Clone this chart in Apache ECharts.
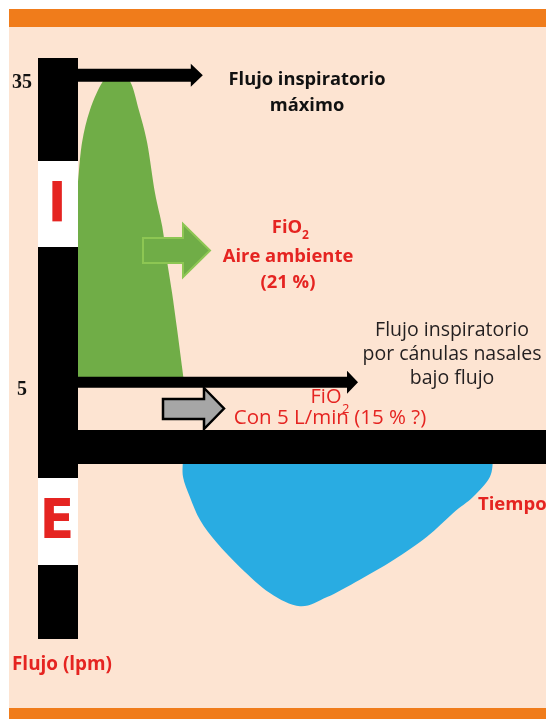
<!DOCTYPE html>
<html>
<head>
<meta charset="utf-8">
<script src="https://cdn.jsdelivr.net/npm/echarts@6/dist/echarts.min.js"></script>
<style>
html,body{margin:0;padding:0;background:#fff;}
#chart{width:546px;height:719px;}
</style>
</head>
<body>
<div id="chart"></div>
<script>
// ---- data (time in s, flow in lpm) ----
const inspTime = [0, 0, 0.077, 0.23, 0.48, 0.73, 1.0, 1.17, 1.33, 1.48, 1.62, 1.71, 1.81, 1.9, 2.04];
const inspFlow = [5, 24.5, 28.4, 31.6, 34.4, 35.5, 34.4, 31.6, 28.4, 23.5, 20.2, 16.9, 13.7, 10.4, 5];
const expTime = [2.02, 2.02, 2.15, 2.35, 2.67, 3.12, 3.69, 4.27, 4.79, 5.42, 6.06, 6.71, 7.21, 7.6, 7.92, 7.98];
const expFlow = [-2.5, -4.26, -6.2, -8.5, -10.7, -13.1, -15.6, -16.9, -16.0, -14.3, -12.4, -10.1, -7.8, -6.2, -4.26, -2.5];
const arrowFlows = [35, 5];
const arrowEnds = [2.40, 5.385];
const yTickLabels = [35, 5];

const FONT = '"Open Sans", Lato, sans-serif';
const RED = '#E52421';

function smoothPath(pts) {
  let d = '';
  for (let i = 0; i < pts.length - 1; i++) {
    const p0 = pts[Math.max(i - 1, 0)], p1 = pts[i], p2 = pts[i + 1], p3 = pts[Math.min(i + 2, pts.length - 1)];
    const c1 = [p1[0] + (p2[0] - p0[0]) / 6, p1[1] + (p2[1] - p0[1]) / 6];
    const c2 = [p2[0] - (p3[0] - p1[0]) / 6, p2[1] - (p3[1] - p1[1]) / 6];
    d += ' C' + c1[0] + ' ' + c1[1] + ' ' + c2[0] + ' ' + c2[1] + ' ' + p2[0] + ' ' + p2[1];
  }
  return d;
}

const chart = echarts.init(document.getElementById('chart'), null, {renderer: 'canvas'});

const option = {
  backgroundColor: '#ffffff',
  animation: false,
  grid: {left: 78, right: 0, top: 24, bottom: 81},
  xAxis: {type: 'value', min: 0, max: 9, show: false},
  yAxis: {
    type: 'value', min: -20, max: 40, interval: 5,
    axisLine: {show: false}, axisTick: {show: false}, splitLine: {show: false},
    axisLabel: {
      margin: 56, align: 'center', verticalAlign: 'top', lineHeight: 16,
      fontFamily: '"Liberation Serif", serif', fontWeight: 'bold', fontSize: 20, color: '#111',
      formatter: v => yTickLabels.indexOf(v) >= 0 ? String(v) : ''
    }
  },
  graphic: [
    {type: 'rect', z: -10, shape: {x: 9, y: 9, width: 537, height: 710}, style: {fill: '#FDE4D2'}},
    {type: 'rect', z: -9, shape: {x: 9, y: 9, width: 537, height: 18}, style: {fill: '#F07C1B'}},
    {type: 'rect', z: -9, shape: {x: 9, y: 708, width: 537, height: 11}, style: {fill: '#F07C1B'}},
    // axes bars
    {type: 'rect', z: 20, shape: {x: 38, y: 58, width: 40, height: 581}, style: {fill: '#000'}},
    {type: 'rect', z: 20, shape: {x: 38, y: 430, width: 508, height: 34}, style: {fill: '#000'}},
    {type: 'rect', z: 21, shape: {x: 38, y: 161, width: 40, height: 86}, style: {fill: '#fff'}},
    {type: 'rect', z: 21, shape: {x: 38, y: 478, width: 40, height: 87}, style: {fill: '#fff'}},
    {type: 'text', z: 22, style: {text: 'I', x: 57, y: 206, align: 'center', verticalAlign: 'middle',
      font: 'bold 56px "Liberation Sans Narrow", "DejaVu Sans Condensed", sans-serif', fill: RED}},
    {type: 'text', z: 22, style: {text: 'E', x: 57, y: 523, align: 'center', verticalAlign: 'middle',
      font: 'bold 56px "Liberation Sans Narrow", "DejaVu Sans Condensed", sans-serif', fill: RED}},
    // annotation arrows
    {type: 'polygon', z: 15, shape: {points: [[143,238],[183,238],[183,224],[210,250.5],[183,277],[183,263],[143,263]]},
      style: {fill: '#70AD47', stroke: '#8DC653', lineWidth: 2}},
    {type: 'polygon', z: 15, shape: {points: [[163,399],[204,399],[204,388],[224,408.5],[204,429],[204,419],[163,419]]},
      style: {fill: '#A6A6A6', stroke: '#000', lineWidth: 2.5}},
    // texts
    {type: 'text', z: 30, style: {text: 'Flujo inspiratorio\nmáximo', x: 307, y: 93, align: 'center', verticalAlign: 'middle',
      font: 'bold 18.3px ' + FONT, lineHeight: 26, fill: '#111'}},
    {type: 'text', z: 30, style: {text: 'FiO', x: 287, y: 228, align: 'center', verticalAlign: 'middle',
      font: 'bold 18.4px ' + FONT, fill: RED}},
    {type: 'text', z: 30, style: {text: '2', x: 302, y: 236, align: 'left', verticalAlign: 'middle',
      font: 'bold 12px ' + FONT, fill: RED}},
    {type: 'text', z: 30, style: {text: 'Aire ambiente\n(21 %)', x: 288, y: 270, align: 'center', verticalAlign: 'middle',
      font: 'bold 18.4px ' + FONT, lineHeight: 26, fill: RED}},
    {type: 'text', z: 30, style: {text: 'Flujo inspiratorio\npor cánulas nasales\nbajo flujo', x: 452, y: 354, align: 'center', verticalAlign: 'middle',
      font: '19.5px ' + FONT, lineHeight: 24, fill: '#231F20'}},
    {type: 'text', z: 30, style: {text: 'FiO', x: 326, y: 397, align: 'center', verticalAlign: 'middle',
      font: '20px ' + FONT, fill: RED}},
    {type: 'text', z: 30, style: {text: '2', x: 342, y: 409, align: 'left', verticalAlign: 'middle',
      font: '13px ' + FONT, fill: RED}},
    {type: 'text', z: 30, style: {text: 'Con 5 L/min (15 % ?)', x: 330, y: 418, align: 'center', verticalAlign: 'middle',
      font: '20.5px ' + FONT, fill: RED}},
    {type: 'text', z: 30, style: {text: 'Tiempo', x: 478, y: 505, align: 'left', verticalAlign: 'middle',
      font: 'bold 18.5px ' + FONT, fill: RED}},
    {type: 'text', z: 30, style: {text: 'Flujo (lpm)', x: 12, y: 665, align: 'left', verticalAlign: 'middle',
      font: 'bold 18.9px ' + FONT, fill: RED}}
  ],
  series: [
    {
      name: 'Inspiración', type: 'custom', z: 2, data: [0],
      renderItem: function (params, api) {
        const pts = inspTime.map((t, i) => api.coord([t, inspFlow[i]]));
        const curve = pts.slice(1);
        let d = 'M' + pts[0][0] + ' ' + pts[0][1] + ' L' + curve[0][0] + ' ' + curve[0][1] + smoothPath(curve) + ' Z';
        return {type: 'path', shape: {pathData: d}, style: {fill: '#70AD47'}};
      }
    },
    {
      name: 'Espiración', type: 'custom', z: 2, data: [0],
      renderItem: function (params, api) {
        const pts = expTime.map((t, i) => api.coord([t, expFlow[i]]));
        let d = 'M' + pts[0][0] + ' ' + pts[0][1] + smoothPath(pts) + ' Z';
        return {type: 'path', shape: {pathData: d}, style: {fill: '#29ACE2'}};
      }
    },
    {
      name: 'Flechas', type: 'custom', z: 5,
      data: arrowFlows.map((f, i) => [arrowEnds[i], f]),
      renderItem: function (params, api) {
        const i = params.dataIndex;
        const p0 = api.coord([0, api.value(1)]);
        const p1 = api.coord([api.value(0), api.value(1)]);
        const h = i === 0 ? 6.5 : 5.5, L = i === 0 ? 12 : 11, H = 11.5;
        const y = p0[1];
        const pts = [[p0[0], y - h], [p1[0] - L, y - h], [p1[0] - L, y - H], [p1[0], y],
          [p1[0] - L, y + H], [p1[0] - L, y + h], [p0[0], y + h]];
        return {type: 'polygon', shape: {points: pts}, style: {fill: '#000'}};
      }
    }
  ]
};
chart.setOption(option);
</script>
</body>
</html>
